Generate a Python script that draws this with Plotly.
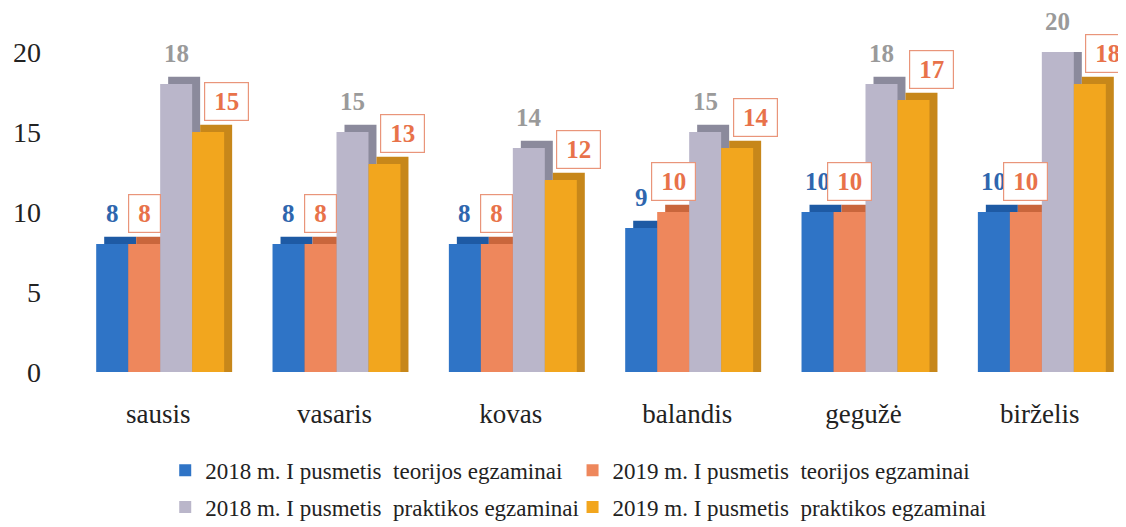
import plotly.graph_objects as go

months = ["sausis", "vasaris", "kovas", "balandis", "gegužė", "birželis"]
series_names = [
    "2018 m. I pusmetis  teorijos egzaminai",
    "2019 m. I pusmetis  teorijos egzaminai",
    "2018 m. I pusmetis  praktikos egzaminai",
    "2019 m. I pusmetis  praktikos egzaminai",
]
theory_2018 = [8, 8, 8, 9, 10, 10]
theory_2019 = [8, 8, 8, 10, 10, 10]
practice_2018 = [18, 15, 14, 15, 18, 20]
practice_2019 = [15, 13, 12, 14, 17, 18]
y_ticks = [0, 5, 10, 15, 20]

values = [theory_2018, theory_2019, practice_2018, practice_2019]
front_colors = ["#2F74C6", "#EE875C", "#BAB6CA", "#F2A61E"]
side_colors = ["#1E5AA4", "#C9663C", "#8B8A9C", "#C7871A"]
label_colors = ["#2E66AE", "#E8724A", "#9A9A9A", "#E8724A"]
boxed = [False, True, False, True]
legend_ids = ["legend", "legend2", "legend3", "legend4"]
legend_pos = [(0.090, -0.24), (0.475, -0.24), (0.090, -0.355), (0.475, -0.355)]

SERIF = "Liberation Serif"
PX_PER_CAT = 176.4
bar_w = 32 / PX_PER_CAT
depth_x = 8 / PX_PER_CAT
depth_y = 0.45
offsets = [(-62 + 32 * i) / PX_PER_CAT for i in range(4)]
label_dx = [0, 0, 0, 18]

fig = go.Figure()

# depth (side/top) faces
for i, vals in enumerate(values):
    fig.add_trace(go.Bar(
        x=months, y=[v + depth_y for v in vals],
        offset=offsets[i] + depth_x, width=bar_w,
        marker=dict(color=side_colors[i], line=dict(width=0)),
        showlegend=False, hoverinfo="skip",
    ))

# front faces
for i, vals in enumerate(values):
    fig.add_trace(go.Bar(
        x=months, y=vals, name=series_names[i],
        offset=offsets[i], width=bar_w,
        marker=dict(color=front_colors[i], line=dict(width=0)),
        legend=legend_ids[i],
    ))

# data labels
for i, vals in enumerate(values):
    for j, v in enumerate(vals):
        ann = dict(
            x=j + offsets[i] + bar_w / 2, y=v, xref="x", yref="y",
            text="<b>%d</b>" % v, showarrow=False,
            xshift=label_dx[i], yshift=31, yanchor="middle",
            font=dict(family=SERIF, size=25, color=label_colors[i]),
        )
        if boxed[i]:
            ann.update(bgcolor="white", bordercolor="#E9957A", borderwidth=1.2,
                       borderpad=5, width=12.5 * len(str(v)) + 8)
        fig.add_annotation(**ann)

legend_layout = {}
for lid, (lx, ly) in zip(legend_ids, legend_pos):
    legend_layout[lid] = dict(
        orientation="h", x=lx, xanchor="left", y=ly, yanchor="top",
        itemwidth=30,
        font=dict(family=SERIF, size=23, color="#222222"),
        bgcolor="rgba(0,0,0,0)",
    )

fig.update_layout(
    width=1126, height=527,
    paper_bgcolor="white", plot_bgcolor="white",
    margin=dict(l=62, r=6, t=44, b=163),
    barmode="overlay",
    font=dict(family=SERIF, color="#222222"),
    xaxis=dict(
        type="category", range=[-0.5, 5.5], showgrid=False, showline=False,
        ticks="", ticklabelstandoff=23,
        tickfont=dict(family=SERIF, size=27, color="#222222"),
    ),
    yaxis=dict(
        range=[0, 20], tickvals=y_ticks, showgrid=False, zeroline=False,
        showline=False, ticks="", ticklabelstandoff=28,
        tickfont=dict(family=SERIF, size=28, color="#222222"),
    ),
    **legend_layout,
)

fig.write_html("out.html")
